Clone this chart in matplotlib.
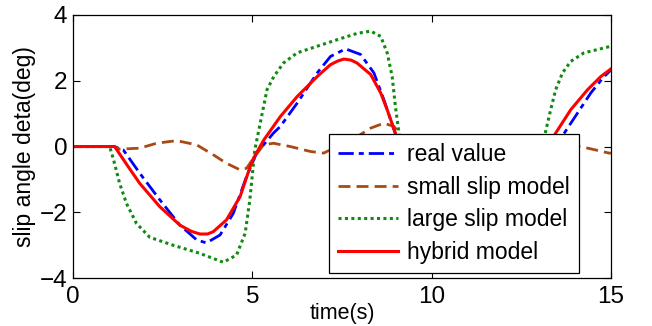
import matplotlib
matplotlib.use("Agg")
import matplotlib.pyplot as plt

# values (time in s, slip angle in deg)
# points hidden behind the legend are rough guesses
t_real = [0, 1.15, 1.40, 1.86, 2.42, 2.98, 3.45, 3.72, 4.10, 4.47, 4.84, 5.12,
          5.59, 5.78, 6.25, 6.81, 7.18, 7.60, 8.02, 8.39, 8.67, 8.95, 9.3,
          10.5, 11.5, 12.5, 13.3, 13.70, 14.07, 14.44, 14.77, 15.0]
y_real = [0, 0, -0.10, -0.81, -1.62, -2.39, -2.84, -2.93, -2.69, -2.03, -0.91, -0.20,
          0.41, 0.61, 1.32, 2.24, 2.74, 2.97, 2.80, 2.24, 1.42, 0.51, -0.6,
          -2.6, -2.8, -1.8, -0.3, 0.41, 1.02, 1.63, 2.08, 2.33]

t_small = [0, 1.15, 1.30, 1.86, 2.33, 2.89, 3.45, 3.91, 4.28, 4.66, 4.84, 5.03,
           5.31, 5.59, 6.06, 6.62, 6.99, 7.08, 7.5, 7.92, 8.30, 8.67, 8.95, 9.3,
           10.5, 11.5, 12.5, 13.5, 14.16, 14.95, 15.0]
y_small = [0, 0, -0.08, -0.05, 0.10, 0.18, 0.05, -0.25, -0.51, -0.71, -0.66, -0.36,
           0.05, 0.10, 0.0, -0.15, -0.20, -0.15, 0.05, 0.30, 0.56, 0.71, 0.61, 0.1,
           -0.5, 0.0, 0.1, 0.05, 0.0, -0.20, -0.20]

t_large = [0, 1.02, 1.12, 1.30, 1.49, 1.77, 2.14, 2.79, 3.54, 4.19, 4.56, 4.80, 4.93,
           5.07, 5.22, 5.41, 5.60, 5.87, 6.25, 6.81, 7.37, 7.92, 8.30, 8.58, 8.76,
           8.90, 8.99, 9.09, 9.4, 10.5, 11.5, 12.5, 13.0, 13.18, 13.32, 13.46,
           13.65, 13.88, 14.25, 14.63, 15.0]
y_large = [0, 0, -0.36, -1.12, -1.73, -2.34, -2.76, -3.00, -3.25, -3.52, -3.30, -2.64, -1.63,
           -0.10, 0.71, 1.73, 2.13, 2.54, 2.85, 3.05, 3.25, 3.44, 3.51, 3.35, 2.85,
           2.13, 1.22, 0.41, -1.5, -3.2, -3.4, -3.0, -0.5, 0.46, 1.12, 1.73,
           2.24, 2.59, 2.85, 2.95, 3.05]

t_hybrid = [0, 1.16, 1.50, 1.86, 2.42, 2.98, 3.30, 3.54, 3.75, 3.91, 4.28, 4.66, 4.94,
            5.03, 5.32, 5.78, 6.25, 6.81, 7.18, 7.38, 7.55, 7.75, 7.92, 8.30, 8.58,
            8.76, 8.99, 9.3, 10.5, 11.5, 12.5, 13.2, 13.46, 13.88, 14.35, 14.72, 15.0]
y_hybrid = [0, 0, -0.55, -1.12, -1.83, -2.39, -2.58, -2.66, -2.66, -2.59, -2.23, -1.52,
            -0.61, -0.36, 0.20, 0.91, 1.52, 2.13, 2.49, 2.60, 2.66, 2.63, 2.54, 2.19,
            1.63, 1.12, 0.41, -0.6, -2.4, -2.6, -1.7, -0.2, 0.41, 1.12, 1.73, 2.13, 2.36]

labels = ["real value", "small slip model", "large slip model", "hybrid model"]
xticks = [0, 5, 10, 15]
yticks = [-4, -2, 0, 2, 4]

plt.rcParams["font.family"] = ["Liberation Sans", "DejaVu Sans"]

fig = plt.figure(figsize=(6.52, 3.26), dpi=100)
ax = fig.add_axes([0.112, 0.147, 0.825, 0.807])

ax.plot(t_real, y_real, color="#0000ff", lw=2.0, ls=(0, (5.5, 1.8, 1.8, 1.8)),
        label=labels[0])
ax.plot(t_small, y_small, color="#a84a14", lw=2.0, ls=(0, (4.3, 2.2)),
        label=labels[1])
ax.plot(t_large, y_large, color="#108a10", lw=2.2, ls=(0, (1.0, 1.1)),
        dash_capstyle="butt", label=labels[2])
ax.plot(t_hybrid, y_hybrid, color="#ff0000", lw=2.2, label=labels[3])

ax.set_xlim(0, 15)
ax.set_ylim(-4, 4)
ax.set_xticks(xticks)
ax.set_yticks(yticks)
ax.tick_params(axis="both", direction="in", length=5, width=0.8, top=True,
               right=True, labelsize=17.5)
ax.tick_params(axis="x", pad=6)
ax.tick_params(axis="y", pad=4)
for s in ax.spines.values():
    s.set_linewidth(0.9)

ax.set_xlabel("time(s)", fontsize=15.5)
ax.xaxis.set_label_coords(0.5, -0.095)
ax.set_ylabel("slip angle deta(deg)", fontsize=16.5, labelpad=3)

leg = ax.legend(loc="lower right", bbox_to_anchor=(0.940, 0.019), borderaxespad=0,
                fontsize=16.5, handlelength=2.6, handletextpad=0.4,
                labelspacing=0.42, borderpad=0.4, fancybox=False,
                framealpha=1, edgecolor="black")
leg.get_frame().set_linewidth(0.9)

fig.savefig("out.png", dpi=100)
